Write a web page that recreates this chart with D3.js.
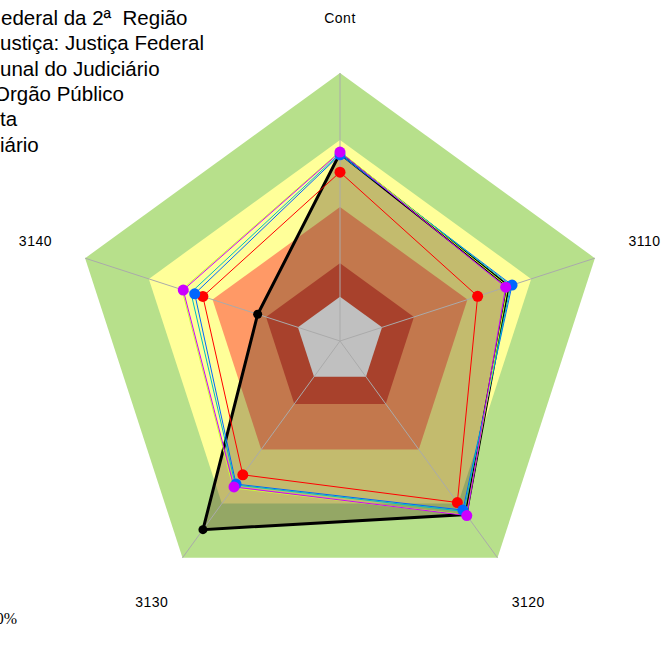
<!DOCTYPE html>
<html>
  <head>
    <meta charset="utf-8">
    <title></title>
  </head>
  <style>
  body{
      font-family: "Liberation Sans", Arial, sans-serif;
      background-color: #fff;
      margin:0;
      padding:0;
      overflow:hidden
    }
    text { white-space: pre }
  </style>
  <script src="https://d3js.org/d3.v7.min.js"></script>
  <body>
    <script>
    // axes of the radar
    const axes = ["Cont", "3110", "3120", "3130", "3140"];

    // background bands (outer to inner), in the same units as the series
    const bandValues = [100, 75, 50, 29, 16.5];
    const bandColors = ["#b7e08b", "#ffff99", "#ff9966", "#a8412c", "#c0c0c0"];

    // series values, one per axis
    const serieBlack   = [70, 66, 80, 87, 32.3];
    const serieRed     = [63, 54, 74.5, 61.7, 53.8];
    const serieBlue    = [69.5, 67.5, 78, 66, 57];
    const serieCyan    = [70, 67, 78.6, 66.4, 58.5];
    const serieLime    = [70.8, 65.8, 80.2, 67.8, 62];
    const serieMagenta = [70.5, 65, 80.5, 67.3, 61.5];

    const legendLabels = ["ederal da 2ª  Região", "ustiça: Justiça Federal", "unal do Judiciário", "Orgão Público", "ta", "iário"];

    var width = 664, height = 668
    var cx = 340, cy = 341

    var svg = d3.select("body").append("svg")
                .attr("width", width)
                .attr("height", height)

    var g = svg.append("g").attr("transform", `translate(${cx},${cy})`)

    var rScale = d3.scaleLinear().domain([0, 100]).range([0, 268])
    var aScale = d3.scalePoint().domain(axes).range([0, 2 * Math.PI * 4 / 5])

    function pt(v, i){
        let a = aScale(axes[i])
        return [rScale(v) * Math.sin(a), -rScale(v) * Math.cos(a)]
    }

    var radial = d3.lineRadial()
                   .angle(function(d, i){ return aScale(axes[i]) })
                   .radius(function(d){ return rScale(d) })
                   .curve(d3.curveLinearClosed)

    // outer bands (green, yellow, salmon)
    bandValues.slice(0, 3).forEach(function(v, i){
        g.append("path")
         .attr("d", radial(axes.map(function(){ return v })))
         .attr("fill", bandColors[i])
    })

    // shaded area of the main series
    g.append("path")
     .attr("d", radial(serieBlack))
     .attr("fill", "rgb(82,59,31)")
     .attr("fill-opacity", 0.35)

    // inner bands, seen through the shade
    bandValues.slice(3).forEach(function(v, i){
        g.append("path")
         .attr("d", radial(axes.map(function(){ return v })))
         .attr("fill", bandColors[i + 3])
    })

    // spokes
    g.selectAll(".spoke")
     .data(axes)
     .enter()
     .append("line")
     .attr("x1", 0).attr("y1", 0)
     .attr("x2", function(d, i){ return pt(100, i)[0] })
     .attr("y2", function(d, i){ return pt(100, i)[1] })
     .attr("stroke", "#aaaaaa")
     .attr("stroke-width", 1)

    // axis labels
    g.selectAll(".lbl")
     .data(axes)
     .enter()
     .append("text")
     .text(function(d){ return d })
     .attr("x", function(d, i){ return pt(119.5, i)[0] })
     .attr("y", function(d, i){ return pt(120.5, i)[1] })
     .attr("dy", "0.35em")
     .attr("text-anchor", "middle")
     .attr("font-size", "14px")
     .attr("letter-spacing", "0.5px")
     .attr("fill", "#000")

    var series = [
        { v: serieBlack,   c: "#000000", w: 3, m: 4.5 },
        { v: serieRed,     c: "#ff0000", w: 1, m: 5.5 },
        { v: serieBlue,    c: "#0066ff", w: 1, m: 5.5 },
        { v: serieCyan,    c: "#00c0c0", w: 1, m: 0 },
        { v: serieLime,    c: "#ccff33", w: 1, m: 0 },
        { v: serieMagenta, c: "#cc00ff", w: 1, m: 5.5 }
    ]

    series.forEach(function(s){
        g.append("path")
         .attr("d", radial(s.v))
         .attr("fill", "none")
         .attr("stroke", s.c)
         .attr("stroke-width", s.w)
         .attr("stroke-linejoin", "miter")
    })

    series.forEach(function(s){
        if (!s.m) return
        g.selectAll(null)
         .data(s.v)
         .enter()
         .append("circle")
         .attr("cx", function(d, i){ return pt(d, i)[0] })
         .attr("cy", function(d, i){ return pt(d, i)[1] })
         .attr("r", s.m)
         .attr("fill", s.c)
    })

    // legend (cut by the left edge)
    var legendX = [1, 0, 0, -6, 0, 0]
    svg.selectAll(".leg")
       .data(legendLabels)
       .enter()
       .append("text")
       .text(function(d){ return d })
       .attr("x", function(d, i){ return legendX[i] })
       .attr("y", function(d, i){ return 25 + i * 25.3 })
       .attr("font-size", "20.5px")
       .attr("fill", "#000")

    svg.append("text")
       .text("100%")
       .attr("x", 17)
       .attr("y", 624)
       .attr("text-anchor", "end")
       .attr("font-family", "Liberation Serif, Times New Roman, serif")
       .attr("font-size", "16px")
       .attr("fill", "#000")
    </script>
  </body>
</html>
